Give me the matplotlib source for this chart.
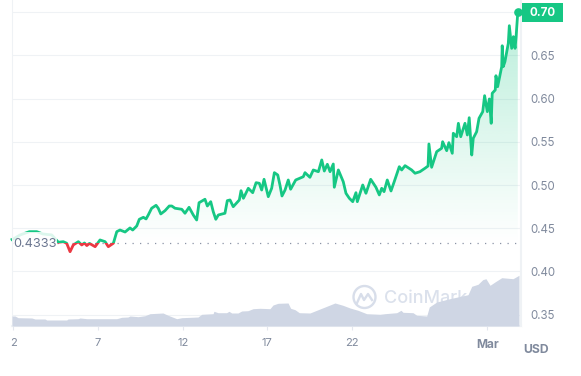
import numpy as np
import matplotlib
matplotlib.use('Agg')
import matplotlib.pyplot as plt
from matplotlib.patches import Rectangle, Arc
from matplotlib.lines import Line2D
from matplotlib.transforms import Affine2D

plt.rcParams['font.family'] = ['Inter', 'DejaVu Sans']

W, H = 581, 376
GREEN = '#16c784'
RED = '#ea3943'
GRID = '#eff2f5'
LABEL = '#808a9d'
VOL = '#cfd6e4'

# day of the period (Mar 1 = 30), price in USD
days = [1.92, 2.00, 2.40, 2.95, 3.38, 3.75, 4.27, 4.66, 4.95, 5.15, 5.35, 5.54, 5.84, 6.04, 6.20, 6.34, 6.50, 6.63,
        6.83, 7.12, 7.42, 7.61, 7.91, 8.11, 8.30, 8.60, 8.89, 9.05, 9.29, 9.44, 9.68, 9.84, 9.97, 10.17,
        10.43, 10.56, 10.71, 10.96, 11.21, 11.36, 11.55, 11.95, 12.14, 12.38, 12.63, 12.83, 12.97, 13.32,
        13.46, 13.66, 13.81, 13.96, 14.11, 14.50, 14.64, 14.80, 14.99, 15.20, 15.35, 15.45, 15.59, 15.88,
        16.14, 16.34, 16.53, 16.67, 16.81, 17.06, 17.26, 17.42, 17.62, 17.75, 17.87, 18.05, 18.24, 18.38,
        18.68, 19.13, 19.23, 19.52, 19.72, 20.02, 20.22, 20.37, 20.55, 20.71, 20.90, 20.96, 21.20, 21.49,
        21.65, 21.85, 22.05, 22.24, 22.32, 22.64, 22.83, 23.11, 23.42, 23.62, 23.76, 23.90, 24.09, 24.31,
        24.50, 24.80, 24.94, 25.14, 25.53, 25.73, 26.02, 26.32, 26.50, 26.55, 26.71, 27.01, 27.30, 27.36,
        27.60, 27.73, 27.93, 27.99, 28.19, 28.29, 28.43, 28.68, 28.82, 28.93, 29.08, 29.17, 29.37, 29.51,
        29.73, 29.84, 30.00, 30.12, 30.23, 30.29, 30.47, 30.51, 30.61, 30.85, 30.88, 30.94, 31.04, 31.24,
        31.30, 31.44, 31.54, 31.64, 31.70, 31.80]
prices = [.4370, .4376, .4423, .4461, .4461, .4434, .4423, .4338, .4345, .4327, .4229, .4307, .4345, .4307, .4330, .4300, .4325, .4310,
          .4287, .4365, .4345, .4287, .4327, .4461, .4480, .4457, .4504, .4480, .4527, .4604, .4627, .4608, .4654, .4732,
          .4766, .4732, .4666, .4704, .4758, .4758, .4732, .4720, .4674, .4743, .4654, .4596, .4796, .4836,
          .4758, .4808, .4692, .4604, .4654, .4674, .4820, .4828, .4750, .4796, .4828, .4935, .4847, .4963,
          .4912, .5028, .5021, .4943, .5067, .4866, .4963, .5144, .5117, .5001, .4874, .4943, .5059, .4952,
          .5059, .5097, .5144, .5090, .5175, .5155, .5291, .5163, .5241, .5155, .5244, .4975, .5175, .5039,
          .4905, .4847, .4808, .4912, .4808, .5001, .4905, .5067, .4975, .4886, .4963, .4924, .5059, .4932,
          .5039, .5213, .5175, .5225, .5175, .5137, .5155, .5195, .5221, .5476, .5206, .5387, .5426, .5502,
          .5398, .5491, .5368, .5600, .5560, .5715, .5560, .5715, .5580, .5780, .5348, .5542, .5618, .5773,
          .5850, .6035, .5850, .5997, .5715, .6063, .6101, .6266, .6139, .6371, .6613, .6371, .6428, .6641,
          .6845, .6583, .6718, .6583, .6718, .7000]

vol_days = [1.92, 2.10, 2.28, 3.09, 3.28, 3.87, 3.97, 5.15, 5.23, 5.82, 5.94, 6.34, 8.11, 8.40, 8.77, 8.89,
            9.37, 9.78, 10.07, 10.84, 11.14, 11.65, 11.95, 12.91, 13.13, 13.80, 13.85, 14.09, 14.60, 14.74,
            14.90, 15.27, 15.49, 15.86, 16.16, 16.57, 17.16, 17.34, 17.64, 18.23, 18.38, 18.64, 18.89, 19.52,
            19.92, 20.41, 21.00, 21.47, 21.89, 22.36, 22.87, 23.66, 23.95, 24.65, 24.90, 25.02, 25.61, 25.83,
            26.42, 26.57, 27.01, 27.79, 28.86, 29.08, 29.45, 29.73, 29.92, 30.16, 30.45, 30.85, 31.52, 31.87]
volumes = [10, 10, 8.3, 8, 7, 7, 6, 6, 7, 7.3, 8, 7.3, 7.3, 8.7, 9, 10,
           9.3, 10.3, 12.3, 13, 10.7, 7.3, 8.3, 9, 11.7, 12.3, 14.7, 13.3, 13.3, 14.7,
           13, 13, 15, 15.3, 17.3, 17.7, 17.3, 21, 22.7, 23, 17.7, 16.3, 13.3, 13,
           15.7, 19, 23, 20.7, 18, 15.7, 12.3, 11.7, 12.3, 13.3, 15.7, 13.7, 13.3, 10.7,
           10, 19, 24, 27.3, 31.3, 39.7, 41.7, 46.3, 47.3, 40.7, 44, 48.3, 47.3, 50.7]

base_price = 0.4333
y_ticks = [0.35, 0.40, 0.45, 0.50, 0.55, 0.60, 0.65]
grid_levels = [0.35, 0.40, 0.45, 0.50, 0.55, 0.60, 0.65, 0.70]
x_ticks = [2, 7, 12, 17, 22, 30]
x_labels = ['2', '7', '12', '17', '22', 'Mar']

fig = plt.figure(figsize=(W / 100, H / 100), dpi=100)
ax = fig.add_axes([12 / W, 1 - 326 / H, 509 / W, 326 / H])
px = Affine2D().scale(1, -1).translate(0, H)  # pixels from top left

for lev in grid_levels:
    ax.axhline(lev, color=GRID, lw=0.8, zorder=1)

# gradient under the line, above the opening price
fill = ax.fill_between(days, prices, base_price, facecolor='none', edgecolor='none')
grad = np.zeros((256, 1, 4))
grad[..., 0] = 0x16 / 255
grad[..., 1] = 0xc7 / 255
grad[..., 2] = 0x84 / 255
grad[:, 0, 3] = np.linspace(0.30, 0.0, 256)
im = ax.imshow(grad, extent=[days[0], days[-1], base_price, 0.70], aspect='auto', zorder=1.5)
im.set_clip_path(fill.get_paths()[0], transform=ax.transData)

ax.plot([days[0], 32], [base_price, base_price], color='#8a93a6', lw=0.9,
        dashes=(1, 5), zorder=1.8)

# green above the opening price, red below
up, = ax.plot(days, prices, color=GREEN, lw=2.0, zorder=3)
down, = ax.plot(days, prices, color=RED, lw=2.0, zorder=3)
up.set_clip_path(Rectangle((1, base_price), 40, 1, transform=ax.transData))
down.set_clip_path(Rectangle((1, 0), 40, base_price, transform=ax.transData))
ax.plot(days[-1], prices[-1], 'o', color=GREEN, ms=5.2, zorder=4, clip_on=False)

ax.add_patch(Rectangle((10, 232), 47, 22, transform=px, fc='white', ec='none', alpha=0.85, zorder=5))
ax.text(35, 244, '0.4333', transform=px, ha='center', va='center', fontsize=9.2, color='#6b7690', zorder=6)

ax.set_xlim(1.92, 31.99)
ax.set_ylim(0.3369, 0.71424)
ax.set_xticks(x_ticks)
ax.set_xticklabels(x_labels)
ax.set_yticks(y_ticks)
ax.set_yticklabels(['%.2f' % v for v in y_ticks])
ax.get_xticklabels()[-1].set_fontweight('bold')
ax.yaxis.tick_right()
ax.tick_params(axis='x', length=3, width=0.8, color='#e4e7ee', labelsize=8, labelcolor=LABEL, pad=6)
ax.tick_params(axis='y', length=0, labelsize=8.3, labelcolor=LABEL, pad=7)
ax.get_xticklabels()[-1].set_fontsize(8.5)
ax.spines['top'].set_visible(False)
ax.spines['left'].set_color(GRID)
ax.spines['left'].set_linewidth(0.8)
ax.spines['left'].set_zorder(7)
ax.spines['right'].set_color(GRID)
ax.spines['right'].set_linewidth(1.5)
ax.spines['bottom'].set_color(GRID)
ax.spines['bottom'].set_linewidth(1.5)

# watermark sits behind the volume area
ax.add_artist(Arc((364.5, 297), 22, 22, theta1=0, theta2=360, transform=px, color='#d8deea', lw=1.7, zorder=1.6))
ax.add_artist(Line2D([357, 361, 364, 368, 372], [303, 294, 300, 294, 300], transform=px,
                     color='#d8deea', lw=1.7, zorder=1.6))
ax.text(384, 298, 'CoinMarketCap', transform=px, ha='left', va='center', fontsize=13, fontweight='medium',
        color='#dbe1ec', zorder=1.6)

# volume in its own axes on top
axv = fig.add_axes(ax.get_position())
axv.patch.set_visible(False)
axv.axis('off')
axv.fill_between(vol_days, volumes, 0, color=VOL, lw=0)
axv.set_xlim(ax.get_xlim())
axv.set_ylim(0, 326)

# current price tag
fig.patches.append(Rectangle((522, 3), 41, 19, transform=px, fc=GREEN, ec='none'))
fig.text(542.5 / W, 1 - 12.7 / H, '0.70', color='white', fontsize=8.3, fontweight='bold', ha='center', va='center')
fig.text(536 / W, 1 - 350 / H, 'USD', color=LABEL, fontsize=8.8, fontweight='bold', ha='center', va='center')

fig.savefig('out.png', dpi=100)
